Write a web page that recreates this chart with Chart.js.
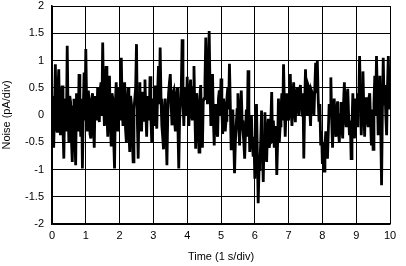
<!DOCTYPE html>
<html>
<head>
<meta charset="utf-8">
<script src="https://cdn.jsdelivr.net/npm/chart.js@4/dist/chart.umd.min.js"></script>
<style>
  html, body { margin: 0; padding: 0; background: #fff; }
  #wrap { width: 406px; height: 266px; }
</style>
</head>
<body>
<div id="wrap"><canvas id="noise" width="406" height="266"></canvas></div>
<script>
// sample spacing of the trace, seconds
const sampleStep = 0.05;

// noise trace, pA (one value every 0.05 s, 0..10 s)
const noise0 = [0.15, -0.6, 0.93, -0.3, 0.84, -0.37, 0.54, -0.8, 0.3, 1.27,
                -0.5, 0.24, -0.86, 0.3, -0.92, 0.2, 0.75, -0.4, -0.98, 0.78];
const noise1 = [1.21, -0.3, 0.2, -0.43, 0.4, -0.6, 0.2, 0.5, -0.13, 0.6,
                1.33, -0.2, 0.9, -0.4, 0.72, -0.55, 0.3, -0.98, 0.6, -0.3];
const noise2 = [0.4, 1.05, -0.2, 0.6, -0.5, 0.5, -0.68, 0.2, -0.86, 0.3,
                1.3, -0.8, 0.6, -0.3, 0.4, 0.65, -0.4, 0.24, 0.71, -0.5];
const noise3 = [0.1, 0.54, -0.25, 0.9, 1.24, -0.2, -0.63, 0.3, -0.92, 0.4,
                0.75, -0.19, 0.45, -0.3, 0.5, -0.98, 0.2, 1.39, -0.2, 0.5];
const noise4 = [0.7, -0.2, 0.65, -0.1, 0.9, -0.62, 0.2, -0.68, 0.55, -0.6,
                0.3, 1.42, 0.2, 1.54, -0.2, 0.75, -0.56, 0.1, -0.4, 0.45];
const noise5 = [0.67, -0.35, 0.2, -0.1, 0.5, 0.94, -0.62, 0.1, -1.07, -0.2,
                0.4, -0.56, 0.45, -0.3, -0.8, 0.1, 0.82, -0.68, 0.0, -0.74];
const noise6 = [-1.17, 0.2, -1.62, -0.9, 0.08, -1.23, 0.05, -0.86, -0.07, -0.5,
                0.42, -0.1, -0.4, -1.1, 0.3, -0.2, 0.4, 0.93, -0.4, 0.4];
const noise7 = [-0.1, 0.75, -0.2, 0.6, -0.13, 0.5, 0.0, 0.55, 0.0, -0.8,
                0.84, 0.0, 0.5, -0.2, 0.4, 0.0, 0.96, 1.0, -0.1, -0.56];
const noise8 = [-0.9, -1.03, -0.3, -0.8, 0.2, 0.69, -0.6, 0.3, -0.4, 0.25,
                -0.5, 0.24, -0.43, 0.6, -0.2, 0.48, -0.37, -0.8, 0.4, -0.43];
const noise9 = [0.1, 0.4, 1.08, -0.37, 0.8, -0.4, 0.3, -0.2, 0.4, -0.56,
                -0.63, 0.72, 1.08, -0.37, 0.72, -1.29, 1.05, 0.55, -0.37, 1.08, 0.1];

// samples in between (at +0.025 s), the dense core of the band
const mid0 = [0.35, 0.1, -0.2, 0.45, -0.1, 0.3, -0.25, 0.2, -0.3, 0.1,
              0.35, -0.45, 0.15, -0.35, 0.4, -0.3, 0.1, 0.3, 0.1, -0.1];
const mid1 = [0.2, 0.45, -0.35, 0.3, -0.2, 0.35, -0.1, 0.1, 0.45, 0.0,
              0.3, 0.5, 0.0, 0.45, -0.1, 0.4, -0.45, 0.2, -0.15, 0.5];
const mid2 = [-0.1, 0.2, 0.45, -0.25, 0.2, -0.3, 0.35, -0.4, 0.1, 0.5,
              -0.1, 0.2, -0.2, 0.4, -0.1, 0.1, 0.35, -0.1, 0.0, 0.3];
const mid3 = [-0.2, 0.1, 0.4, 0.2, 0.3, -0.4, 0.1, -0.3, 0.0, 0.6,
              0.2, 0.4, -0.1, 0.35, -0.2, -0.1, 0.5, 0.3, 0.4, 0.0];
const mid4 = [0.2, 0.4, 0.05, 0.5, 0.1, 0.4, -0.3, 0.35, -0.1, 0.25,
              0.6, 0.5, 0.8, 0.5, 0.4, -0.1, 0.2, -0.3, 0.3, 0.0];
const mid5 = [0.1, 0.3, -0.3, 0.3, 0.1, 0.2, -0.1, -0.4, -0.5, 0.1,
              -0.2, 0.05, -0.1, -0.5, -0.3, -0.4, 0.1, -0.2, -0.5, -0.4];
const mid6 = [-0.5, -0.7, -1.0, -0.5, -0.6, -0.4, -0.6, -0.3, -0.6, -0.1,
              -0.5, -0.6, -0.2, -0.5, -0.5, 0.1, -0.1, 0.2, 0.1, 0.0];
const mid7 = [0.4, 0.1, 0.35, 0.1, 0.4, 0.15, 0.45, 0.2, 0.4, 0.2,
              0.3, 0.55, 0.1, 0.45, 0.1, 0.5, 0.4, 0.3, 0.2, -0.3];
const mid8 = [-0.5, -0.6, -0.7, -0.3, 0.1, -0.1, 0.0, -0.2, 0.1, -0.3,
              0.0, -0.2, 0.2, 0.0, 0.3, 0.0, -0.1, -0.2, -0.1, 0.3];
const mid9 = [-0.2, 0.2, 0.3, 0.3, 0.1, 0.3, -0.1, 0.3, -0.1, 0.1,
              0.2, 0.0, 0.4, 0.2, -0.2, 0.1, 0.2, 0.0, 0.5, 0.4];

const noise = [].concat(noise0, noise1, noise2, noise3, noise4,
                        noise5, noise6, noise7, noise8, noise9);
const noiseMid = [].concat(mid0, mid1, mid2, mid3, mid4,
                           mid5, mid6, mid7, mid8, mid9);

const xTitle = 'Time (1 s/div)';
const yTitle = 'Noise (pA/div)';

// interleave the two sample sets into one trace
const points = [];
noise.forEach((v, i) => {
    points.push({ x: i * sampleStep, y: v });
    if (i < noiseMid.length) points.push({ x: i * sampleStep + sampleStep / 2, y: noiseMid[i] });
});

const font = { family: '"Liberation Sans", Arial, sans-serif', size: 11 };

new Chart(document.getElementById('noise'), {
    type: 'line',
    data: {
        datasets: [{
            data: points,
            borderColor: '#000',
            borderWidth: 2.8,
            pointRadius: 0,
            tension: 0,
            fill: false,
        }]
    },
    options: {
        responsive: false,
        animation: false,
        layout: { padding: { top: 6, right: 16, left: 0, bottom: 0 } },
        plugins: { legend: { display: false }, tooltip: { enabled: false } },
        scales: {
            x: {
                type: 'linear',
                min: 0,
                max: 10,
                ticks: { stepSize: 1, color: '#000', font: font, padding: 5, maxRotation: 0 },
                grid: { color: '#000', lineWidth: 1, drawTicks: false },
                border: { color: '#000', width: 1.5 },
                title: { display: true, text: xTitle, color: '#000', font: font, padding: { top: 2, bottom: 2 } },
                afterFit: (s) => { s.height = 42; },
            },
            y: {
                min: -2,
                max: 2,
                ticks: {
                    stepSize: 0.5, color: '#000', font: font, padding: 8,
                    callback: (v) => String(v),
                },
                grid: { color: '#000', lineWidth: 1, drawTicks: false },
                border: { color: '#000', width: 1.5 },
                title: { display: true, text: yTitle, color: '#000', font: font, padding: { top: 0, bottom: 2 } },
                afterFit: (s) => { s.width = 52; s.paddingTop = 0; s.paddingBottom = 0; },
            }
        }
    }
});
</script>
</body>
</html>
